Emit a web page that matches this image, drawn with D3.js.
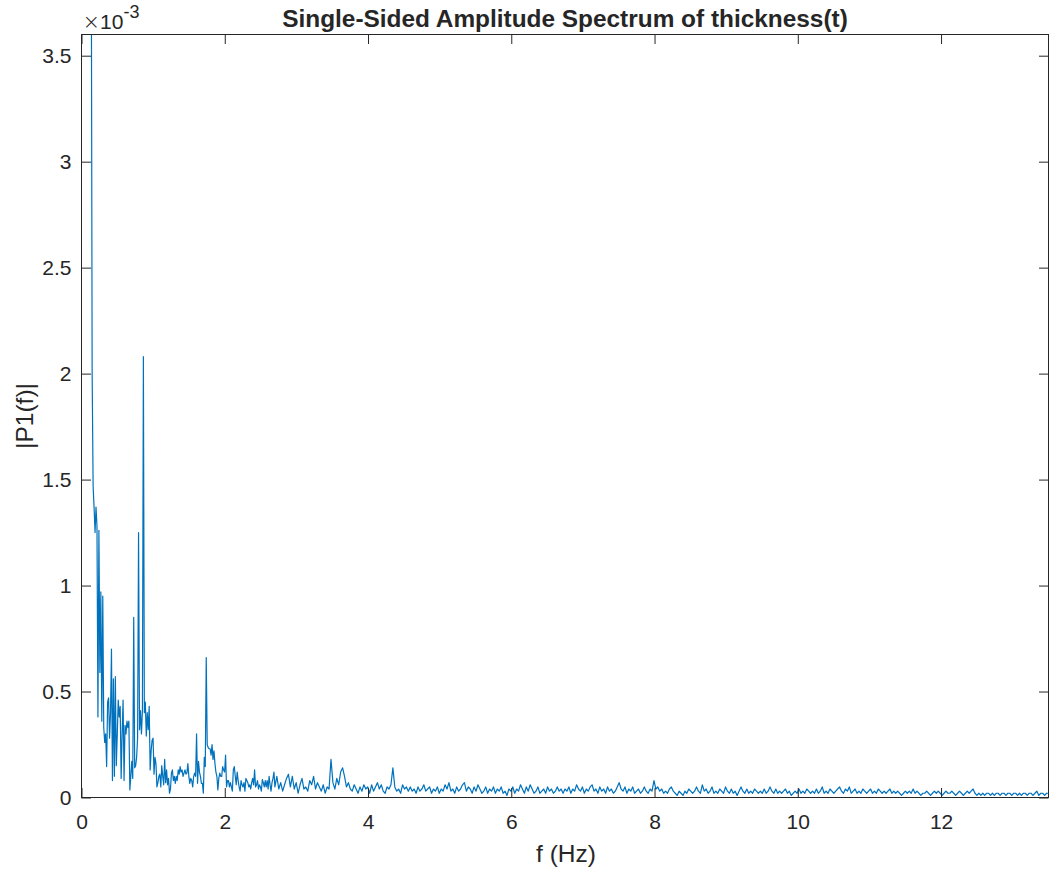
<!DOCTYPE html>
<html>
<head>
<meta charset="utf-8">
<script src="https://cdn.jsdelivr.net/npm/d3@7"></script>
<style>
  body { margin: 0; background: #fff; }
  svg { display: block; }
  text { font-family: "Liberation Sans", Arial, Helvetica, sans-serif; fill: #262626; }
</style>
</head>
<body>
<svg id="chart" width="1051" height="870"></svg>
<script>
// Single-sided amplitude spectrum |P1(f)|, values in units of 1e-3.
// Low band: fine frequency step from 0 Hz.
const lowBandStep = 0.0135;
const lowBand = [
  30, 19, 14, 11.5, 9.6, 8.4, 7.5, 6.6, 5.9, 5.1,
  4.3, 2.01, 1.47, 1.37, 1.25, 1.37, 1.28, 0.38, 1.26, 0.59,
  0.97, 0.36, 0.95, 0.33, 0.26, 0.30, 0.146, 0.45, 0.47, 0.28,
  0.40, 0.70, 0.08, 0.56, 0.10, 0.57, 0.15, 0.30, 0.46, 0.38,
  0.43, 0.09, 0.30, 0.46, 0.08, 0.34, 0.30, 0.36, 0.33, 0.36,
  0.036, 0.10, 0.17, 0.09, 0.85, 0.14, 0.15, 0.19, 0.28, 1.25,
  0.32, 0.41, 0.30, 0.41, 2.08, 0.40, 0.45, 0.29, 0.40, 0.32,
  0.43, 0.13, 0.22, 0.27, 0.28, 0.11, 0.19, 0.16, 0.05, 0.07,
  0.10, 0.11, 0.05, 0.15, 0.10, 0.06, 0.18, 0.07, 0.13, 0.06,
  0.09, 0.02, 0.04, 0.115, 0.13, 0.08, 0.10, 0.067, 0.10, 0.08,
  0.13, 0.11, 0.146, 0.12, 0.13, 0.10, 0.115, 0.13, 0.11, 0.115,
  0.16, 0.10, 0.067, 0.09, 0.08, 0.05, 0.10, 0.115, 0.10, 0.30,
  0.067, 0.17, 0.12, 0.10, 0.067, 0.067, 0.02, 0.19, 0.146, 0.66,
  0.25, 0.235, 0.23, 0.23, 0.20, 0.25, 0.18, 0.22, 0.16, 0.12,
  0.10, 0.036, 0.09, 0.115, 0.10, 0.10, 0.146, 0.13, 0.12, 0.20,
  0.05, 0.08, 0.08, 0.05, 0.07, 0.05, 0.03, 0.13, 0.146, 0.10,
  0.06, 0.12, 0.08, 0.05, 0.03, 0.08, 0.06, 0.05, 0.07, 0.03,
  0.09, 0.08, 0.07, 0.05, 0.06, 0.04, 0.07, 0.09, 0.06, 0.13,
  0.05, 0.06, 0.08, 0.04, 0.06, 0.05, 0.03, 0.085, 0.07, 0.05,
  0.08, 0.05, 0.08, 0.04, 0.10, 0.06, 0.03, 0.07, 0.09, 0.12
];

// High band: coarser step from 2.7 Hz up to 13.5 Hz.
const highBandStart = 2.7;
const highBandStep = 0.027;
const highBand = [
  0.05, 0.10, 0.04, 0.07, 0.03, 0.06, 0.09, 0.11, 0.05, 0.10,
  0.04, 0.07, 0.02, 0.06, 0.09, 0.04, 0.05, 0.03, 0.08, 0.06,
  0.10, 0.04, 0.07, 0.05, 0.03, 0.06, 0.02, 0.05, 0.04, 0.18,
  0.07, 0.04, 0.09, 0.06, 0.12, 0.14, 0.10, 0.05, 0.07, 0.04,
  0.03, 0.06, 0.04, 0.02, 0.05, 0.03, 0.06, 0.04, 0.05, 0.02,
  0.06, 0.03, 0.05, 0.07, 0.04, 0.06, 0.03, 0.02, 0.05, 0.04,
  0.06, 0.14, 0.05, 0.03, 0.04, 0.02, 0.06, 0.04, 0.05, 0.03,
  0.05, 0.03, 0.04, 0.02, 0.05, 0.03, 0.04, 0.06, 0.03, 0.04,
  0.05, 0.02, 0.04, 0.03, 0.05, 0.02, 0.04, 0.03, 0.06, 0.04,
  0.07, 0.03, 0.04, 0.02, 0.05, 0.03, 0.04, 0.06, 0.07, 0.03,
  0.05, 0.04, 0.02, 0.05, 0.03, 0.06, 0.04, 0.02, 0.03, 0.05,
  0.02, 0.04, 0.03, 0.05, 0.02, 0.04, 0.03, 0.05, 0.02, 0.03,
  0.01, 0.04, 0.03, 0.05, 0.02, 0.04, 0.03, 0.06, 0.04, 0.02,
  0.05, 0.03, 0.06, 0.04, 0.02, 0.03, 0.05, 0.02, 0.03, 0.04,
  0.02, 0.05, 0.03, 0.04, 0.02, 0.03, 0.05, 0.03, 0.04, 0.02,
  0.04, 0.03, 0.05, 0.02, 0.04, 0.03, 0.06, 0.04, 0.03, 0.05,
  0.02, 0.04, 0.03, 0.05, 0.06, 0.03, 0.04, 0.02, 0.05, 0.03,
  0.04, 0.02, 0.05, 0.03, 0.04, 0.02, 0.03, 0.05, 0.07, 0.04,
  0.03, 0.05, 0.02, 0.04, 0.03, 0.05, 0.02, 0.03, 0.04, 0.02,
  0.03, 0.05, 0.03, 0.02, 0.04, 0.03, 0.08, 0.04, 0.05, 0.03,
  0.04, 0.02, 0.03, 0.02, 0.04, 0.05, 0.03, 0.02, 0.01, 0.03,
  0.02, 0.01, 0.03, 0.02, 0.04, 0.03, 0.02, 0.03, 0.05, 0.03,
  0.02, 0.06, 0.03, 0.04, 0.02, 0.03, 0.05, 0.02, 0.03, 0.02,
  0.04, 0.03, 0.02, 0.05, 0.03, 0.02, 0.04, 0.02, 0.03, 0.01,
  0.03, 0.05, 0.03, 0.02, 0.04, 0.02, 0.03, 0.02, 0.04, 0.03,
  0.02, 0.03, 0.02, 0.04, 0.02, 0.03, 0.05, 0.03, 0.02, 0.04,
  0.02, 0.03, 0.02, 0.03, 0.04, 0.02, 0.03, 0.01, 0.02, 0.03,
  0.02, 0.04, 0.02, 0.03, 0.02, 0.04, 0.03, 0.02, 0.03, 0.02,
  0.04, 0.02, 0.03, 0.05, 0.02, 0.03, 0.02, 0.04, 0.03, 0.02,
  0.03, 0.04, 0.05, 0.03, 0.02, 0.04, 0.03, 0.05, 0.02, 0.03,
  0.04, 0.02, 0.03, 0.02, 0.04, 0.03, 0.02, 0.03, 0.04, 0.02,
  0.03, 0.02, 0.04, 0.03, 0.02, 0.03, 0.02, 0.03, 0.04, 0.02,
  0.03, 0.02, 0.03, 0.02, 0.01, 0.02, 0.03, 0.02, 0.03, 0.02,
  0.04, 0.02, 0.03, 0.02, 0.01, 0.02, 0.02, 0.03, 0.02, 0.01,
  0.02, 0.03, 0.02, 0.03, 0.02, 0.01, 0.02, 0.03, 0.02, 0.02,
  0.03, 0.02, 0.01, 0.02, 0.03, 0.02, 0.01, 0.02, 0.03, 0.02,
  0.03, 0.04, 0.02, 0.01, 0.02, 0.01, 0.02, 0.01, 0.02, 0.02,
  0.01, 0.02, 0.01, 0.02, 0.02, 0.01, 0.02, 0.02, 0.01, 0.02,
  0.02, 0.01, 0.02, 0.02, 0.01, 0.02, 0.01, 0.02, 0.02, 0.01,
  0.02, 0.02, 0.01, 0.02, 0.03, 0.01, 0.02, 0.02, 0.01, 0.02,
  0.02
];

const xTicks = [0, 2, 4, 6, 8, 10, 12];
const yTicks = [0, 0.5, 1, 1.5, 2, 2.5, 3, 3.5];
const xDomain = [0, 13.5];
const yDomain = [0, 3.6];

const titleText = "Single-Sided Amplitude Spectrum of thickness(t)";
const xLabelText = "f (Hz)";
const yLabelText = "|P1(f)|";

// Combined (frequency, amplitude) samples.
const spectrum = lowBand.map((a, i) => ({ f: i * lowBandStep, a }))
  .concat(highBand.map((a, j) => ({ f: highBandStart + j * highBandStep, a })));

const axisColor = "#262626";
const lineColor = "#0072bd";
const plot = { left: 81.5, right: 1048.5, top: 34.5, bottom: 797.5 };
const tickLen = 9.5;

const svg = d3.select("#chart");
const x = d3.scaleLinear().domain(xDomain).range([plot.left, plot.right]);
const y = d3.scaleLinear().domain(yDomain).range([plot.bottom, plot.top]);

svg.append("defs").append("clipPath").attr("id", "plot-clip")
  .append("rect")
  .attr("x", plot.left).attr("y", plot.top)
  .attr("width", plot.right - plot.left).attr("height", plot.bottom - plot.top);

// Spectrum trace
svg.append("path")
  .datum(spectrum)
  .attr("clip-path", "url(#plot-clip)")
  .attr("fill", "none")
  .attr("stroke", lineColor)
  .attr("stroke-width", 1.2)
  .attr("stroke-linejoin", "round")
  .attr("d", d3.line().x(d => x(d.f)).y(d => y(d.a)));

// Axes with inward ticks on all four sides
function styleAxis(g) {
  g.selectAll(".domain").remove();
  g.selectAll(".tick line").attr("stroke", axisColor).attr("stroke-width", 1);
  g.selectAll(".tick text").attr("fill", axisColor).attr("font-family", null);
}

svg.append("g")
  .attr("transform", `translate(0,${plot.bottom})`)
  .call(d3.axisBottom(x).tickValues(xTicks).tickSizeInner(-tickLen).tickSizeOuter(0)
    .tickPadding(10).tickFormat(d3.format("~g")))
  .call(styleAxis)
  .call(g => g.selectAll(".tick text").attr("font-size", 21).attr("dy", "0.71em").attr("y", 17));

svg.append("g")
  .attr("transform", `translate(0,${plot.top})`)
  .call(d3.axisTop(x).tickValues(xTicks).tickSizeInner(-tickLen).tickSizeOuter(0).tickFormat(""))
  .call(styleAxis);

svg.append("g")
  .attr("transform", `translate(${plot.left},0)`)
  .call(d3.axisLeft(y).tickValues(yTicks).tickSizeInner(-tickLen).tickSizeOuter(0)
    .tickPadding(10).tickFormat(d3.format("~g")))
  .call(styleAxis)
  .call(g => g.selectAll(".tick text").attr("font-size", 21).attr("x", -10));

svg.append("g")
  .attr("transform", `translate(${plot.right},0)`)
  .call(d3.axisRight(y).tickValues(yTicks).tickSizeInner(-tickLen).tickSizeOuter(0).tickFormat(""))
  .call(styleAxis);

// Axes box
svg.append("rect")
  .attr("x", plot.left).attr("y", plot.top)
  .attr("width", plot.right - plot.left).attr("height", plot.bottom - plot.top)
  .attr("fill", "none").attr("stroke", axisColor).attr("stroke-width", 1);

// Exponent marker
const expo = svg.append("text")
  .attr("x", plot.left + 1).attr("y", 29)
  .attr("font-size", 21);
expo.append("tspan").attr("font-family", "DejaVu Sans").attr("font-weight", 300).text("\u00d7");
expo.append("tspan").text("10");
expo.append("tspan").attr("dy", -11).attr("font-size", 18).text("-3");

// Title
svg.append("text")
  .attr("x", (plot.left + plot.right) / 2).attr("y", 26.5)
  .attr("text-anchor", "middle")
  .attr("font-size", 24.4).attr("font-weight", "bold")
  .attr("fill", "#000")
  .text(titleText);

// Axis labels
svg.append("text")
  .attr("x", (plot.left + plot.right) / 2 + 1).attr("y", 862)
  .attr("text-anchor", "middle")
  .attr("font-size", 24.5)
  .text(xLabelText);

svg.append("text")
  .attr("transform", `translate(33,${(plot.top + plot.bottom) / 2}) rotate(-90)`)
  .attr("text-anchor", "middle")
  .attr("font-size", 24.5)
  .text(yLabelText);
</script>
</body>
</html>
